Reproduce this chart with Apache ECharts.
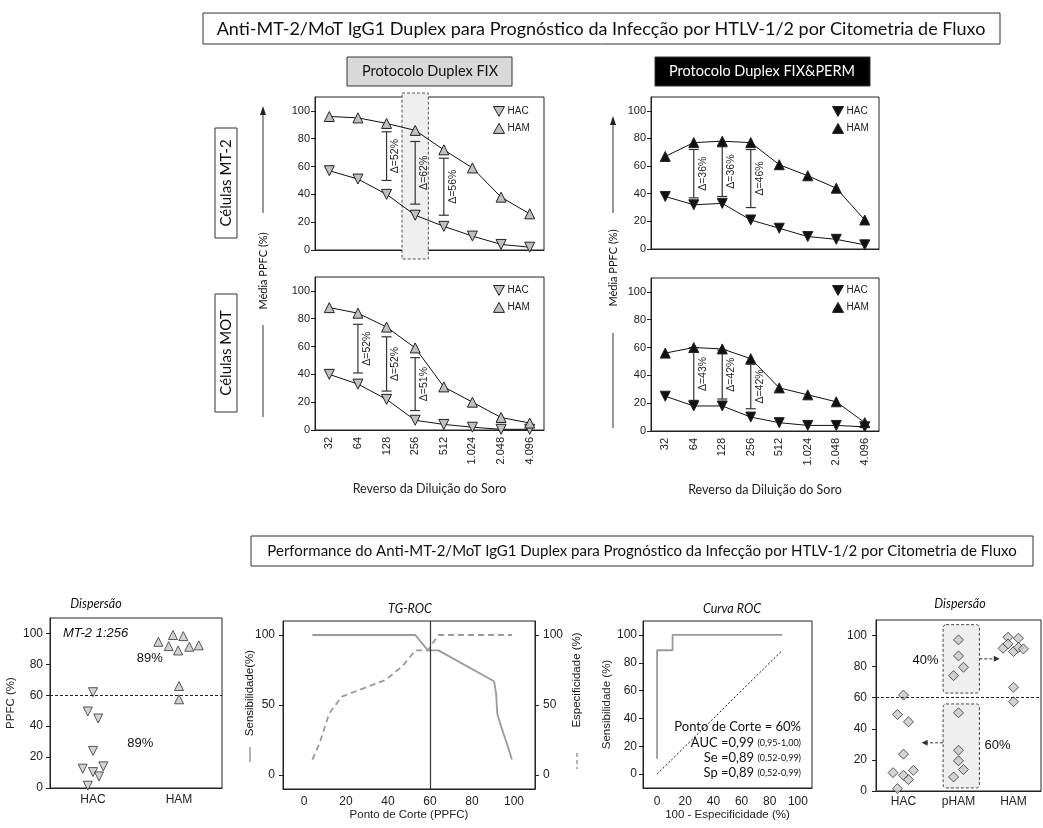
<!DOCTYPE html>
<html>
<head>
<meta charset="utf-8">
<script src="https://cdn.jsdelivr.net/npm/echarts@6/dist/echarts.min.js"></script>
<style>
  html, body { margin: 0; padding: 0; background: #fff; }
  #chart { width: 1043px; height: 828px; }
</style>
</head>
<body>
<div id="chart"></div>
<script>
// ---- data ----
const dilutions = ['32', '64', '128', '256', '512', '1.024', '2.048', '4.096'];

const fixMt2Hac = [57, 51, 40, 25, 17, 10, 4, 2];
const fixMt2Ham = [96, 95, 91, 86, 72, 59, 38, 26];
const fixMotHac = [40, 33, 22, 7, 4, 2, 0.5, 0.5];
const fixMotHam = [88, 84, 74, 59, 31, 20, 9, 5];
const permMt2Hac = [38, 32, 33, 21, 15, 9, 7, 3];
const permMt2Ham = [67, 77, 78, 77, 61, 53, 44, 21];
const permMotHac = [25, 18, 18, 10, 6, 4, 4, 3];
const permMotHam = [56, 60, 59, 52, 31, 26, 21, 6];

// [category index, low, high, label]
const fixMt2Delta = [[2, 50, 85, 'Δ=52%'], [3, 33, 78, 'Δ=62%'], [4, 25, 66, 'Δ=56%']];
const fixMotDelta = [[1, 41, 76, 'Δ=52%'], [2, 28, 67, 'Δ=52%'], [3, 14, 52, 'Δ=51%']];
const permMt2Delta = [[1, 37, 72, 'Δ=36%'], [2, 38, 74, 'Δ=36%'], [3, 30, 72, 'Δ=46%']];
const permMotDelta = [[1, 22, 60, 'Δ=43%'], [2, 23, 58, 'Δ=42%'], [3, 16, 48, 'Δ=42%']];

// scatter MT-2 1:256 (x = group position with jitter, y = PPFC %)
const dispHac = [[0.5, 62], [0.44, 49.5], [0.56, 45], [0.5, 24], [0.38, 12.5], [0.5, 10.3], [0.57, 7.5], [0.62, 14], [0.44, 1.5]];
const dispHam = [[1.26, 94.6], [1.38, 91.8], [1.43, 99], [1.49, 89], [1.55, 98.3], [1.62, 91.4], [1.73, 92.3], [1.5, 66], [1.5, 57.4]];

// TG-ROC
const tgSens = [[4, 100], [53, 100], [59, 89], [64, 89], [90.5, 67], [91.5, 58], [92, 44], [94, 34], [96.5, 23], [99, 11]];
const tgSpec = [[4, 11], [7.5, 23], [12, 44], [18, 56], [39, 68], [47, 78], [53, 89], [59, 89], [64, 100], [99, 100]];

// ROC
const rocCurve = [[0, 11], [0, 89], [11, 89], [11, 100], [89, 100]];
const rocDiag = [[0, 0], [89, 89]];

// dispersion HAC / pHAM / HAM
const dispDHac = [[0.5, 61.7], [0.39, 49.2], [0.59, 44.5], [0.5, 23.7], [0.31, 11.8], [0.5, 10.1], [0.59, 7.3], [0.68, 13.3], [0.39, 1.5]];
const dispDPham = [[1.5, 97.2], [1.5, 86.9], [1.59, 79.6], [1.41, 74.2], [1.5, 50.3], [1.5, 26.2], [1.5, 19.4], [1.59, 13.8], [1.41, 9]];
const dispDHam = [[2.4, 98.9], [2.59, 98.3], [2.31, 91.8], [2.4, 94.6], [2.5, 89.7], [2.59, 92.3], [2.68, 91.4], [2.5, 66.7], [2.5, 57.4]];

const pctTicks = [0, 20, 40, 60, 80, 100];

// ---- chart ----
const chart = echarts.init(document.getElementById('chart'));

const FA = '"Liberation Sans", Arial, sans-serif';
const FC = 'Lato, "Open Sans", sans-serif';
const INK = '#222';
const DOWN_TRI = 'path://M0,0L10,0L5,9Z';

const gridBox = { show: true, borderColor: INK, borderWidth: 1, backgroundColor: 'transparent' };
const grids = [
  { left: 315, top: 97, width: 229, height: 153 },
  { left: 315, top: 277, width: 229, height: 153 },
  { left: 651, top: 97, width: 228, height: 152 },
  { left: 651, top: 278, width: 228, height: 153 },
  { left: 50, top: 618, width: 172, height: 170 },
  { left: 283, top: 621, width: 252, height: 168 },
  { left: 643, top: 621, width: 169, height: 167 },
  { left: 876, top: 620, width: 165, height: 171 }
].map(g => Object.assign({}, gridBox, g));

const xAxes = [];
const yAxes = [];
const series = [];

function valueAxis(gi, min, max, ticks, fontSize, margin, extra) {
  return Object.assign({
    gridIndex: gi, type: 'value', min: min, max: max,
    axisLine: { show: true, onZero: false, lineStyle: { color: INK } },
    axisTick: { show: true, length: 4, customValues: ticks, lineStyle: { color: INK } },
    axisLabel: { customValues: ticks, fontSize: fontSize, fontFamily: FA, color: INK, margin: margin },
    splitLine: { show: false }
  }, extra || {});
}

function bracketSeries(gi, deltas) {
  return {
    type: 'custom', xAxisIndex: gi, yAxisIndex: gi, z: 3, silent: true,
    data: deltas.map(d => [d[0], d[1], d[2]]),
    encode: { x: 0, y: [1, 2] },
    renderItem: (params, api) => {
      const lo = api.coord([api.value(0), api.value(1)]);
      const hi = api.coord([api.value(0), api.value(2)]);
      const st = { stroke: '#333', lineWidth: 1.2 };
      return {
        type: 'group',
        children: [
          { type: 'line', shape: { x1: lo[0], y1: lo[1], x2: hi[0], y2: hi[1] }, style: st },
          { type: 'line', shape: { x1: lo[0] - 5, y1: lo[1], x2: lo[0] + 5, y2: lo[1] }, style: st },
          { type: 'line', shape: { x1: hi[0] - 5, y1: hi[1], x2: hi[0] + 5, y2: hi[1] }, style: st },
          {
            type: 'text', x: lo[0] + 9, y: (lo[1] + hi[1]) / 2, rotation: Math.PI / 2,
            style: { text: deltas[params.dataIndex][3], fill: INK, font: '10.5px ' + FA, align: 'center', verticalAlign: 'middle' }
          }
        ]
      };
    }
  };
}

function topPanel(gi, hac, ham, deltas, fill, bottomRow) {
  xAxes.push({
    gridIndex: gi, type: 'category', data: dilutions, boundaryGap: true,
    axisLine: { onZero: false, lineStyle: { color: INK } },
    axisTick: { alignWithLabel: true, length: 4, lineStyle: { color: INK } },
    axisLabel: { show: bottomRow, rotate: 90, fontSize: 11, fontFamily: FA, color: INK, margin: 7 },
    name: bottomRow ? 'Reverso da Diluição do Soro' : '',
    nameLocation: 'middle', nameGap: 52,
    nameTextStyle: { fontFamily: FC, fontSize: 12.5, color: INK }
  });
  yAxes.push(valueAxis(gi, 0, 110, pctTicks, 11, 5));
  const mark = { color: fill, borderColor: INK, borderWidth: 1 };
  series.push(
    {
      type: 'line', name: 'HAC', xAxisIndex: gi, yAxisIndex: gi, data: hac,
      symbol: 'triangle', symbolRotate: 180, symbolSize: 10, z: 4,
      lineStyle: { color: '#111', width: 1 }, itemStyle: mark
    },
    {
      type: 'line', name: 'HAM', xAxisIndex: gi, yAxisIndex: gi, data: ham,
      symbol: 'triangle', symbolSize: 10, z: 4,
      lineStyle: { color: '#111', width: 1 }, itemStyle: mark
    },
    bracketSeries(gi, deltas)
  );
}

topPanel(0, fixMt2Hac, fixMt2Ham, fixMt2Delta, '#c0c0c0', false);
topPanel(1, fixMotHac, fixMotHam, fixMotDelta, '#c0c0c0', true);
topPanel(2, permMt2Hac, permMt2Ham, permMt2Delta, '#111', false);
topPanel(3, permMotHac, permMotHam, permMotDelta, '#111', true);

// panel A: dispersion MT-2 1:256
xAxes.push(valueAxis(4, 0, 2, [0.5, 1.5], 12, 6, {
  axisTick: { show: false },
  axisLabel: { customValues: [0.5, 1.5], fontSize: 12, fontFamily: FA, color: INK, margin: 6,
    formatter: v => (v < 1 ? 'HAC' : 'HAM') }
}));
yAxes.push(valueAxis(4, 0, 110, pctTicks, 12, 7, {
  name: 'PPFC (%)', nameLocation: 'middle', nameGap: 33,
  nameTextStyle: { fontFamily: FA, fontSize: 11.5, color: INK }
}));
const triStyle = { color: '#c8c8c8', borderColor: '#333', borderWidth: 1 };
series.push(
  {
    type: 'scatter', name: 'dispHac', xAxisIndex: 4, yAxisIndex: 4, data: dispHac,
    symbol: 'triangle', symbolRotate: 180, symbolSize: 9, itemStyle: triStyle,
    markLine: { silent: true, symbol: 'none', label: { show: false },
      lineStyle: { color: INK, type: [3, 2], width: 1 }, data: [{ yAxis: 60 }] }
  },
  {
    type: 'scatter', name: 'dispHam', xAxisIndex: 4, yAxisIndex: 4, data: dispHam,
    symbol: 'triangle', symbolSize: 9, itemStyle: triStyle
  }
);

// panel B: TG-ROC
xAxes.push(valueAxis(5, -10, 110, pctTicks, 12, 7, {
  axisTick: { show: false },
  name: 'Ponto de Corte (PPFC)', nameLocation: 'middle', nameGap: 18,
  nameTextStyle: { fontFamily: FA, fontSize: 11.5, color: INK }
}));
yAxes.push(valueAxis(5, -10, 110, [0, 50, 100], 12, 8));
// right axis of TG-ROC is yAxis index 8 (added below)
series.push(
  {
    type: 'line', name: 'Sensibilidade', xAxisIndex: 5, yAxisIndex: 5, data: tgSens,
    symbol: 'none', lineStyle: { color: '#9a9a9a', width: 1.8 },
    markLine: { silent: true, symbol: 'none', label: { show: false },
      lineStyle: { color: '#333', type: 'solid', width: 1.2 }, data: [{ xAxis: 60 }] }
  },
  {
    type: 'line', name: 'Especificidade', xAxisIndex: 5, yAxisIndex: 8, data: tgSpec,
    symbol: 'none', lineStyle: { color: '#9a9a9a', width: 1.8, type: [6, 4] }
  }
);

// panel C: ROC
xAxes.push(valueAxis(6, -10, 110, pctTicks, 12, 8, {
  axisTick: { show: false },
  name: '100 - Especificidade (%)', nameLocation: 'middle', nameGap: 18,
  nameTextStyle: { fontFamily: FA, fontSize: 11.5, color: INK }
}));
yAxes.push(valueAxis(6, -10, 110, pctTicks, 12, 6, {
  name: 'Sensibilidade (%)', nameLocation: 'middle', nameGap: 30,
  nameTextStyle: { fontFamily: FA, fontSize: 11.5, color: INK }
}));
series.push(
  {
    type: 'line', name: 'ROC', xAxisIndex: 6, yAxisIndex: 6, data: rocCurve,
    symbol: 'none', lineStyle: { color: '#9a9a9a', width: 1.8 }
  },
  {
    type: 'line', name: 'Ref', xAxisIndex: 6, yAxisIndex: 6, data: rocDiag,
    symbol: 'none', lineStyle: { color: '#111', width: 1, type: [2, 2] }
  }
);

// panel D: dispersion HAC / pHAM / HAM
xAxes.push(valueAxis(7, 0, 3, [0.5, 1.5, 2.5], 12, 5, {
  axisTick: { show: false },
  axisLabel: { customValues: [0.5, 1.5, 2.5], fontSize: 12, fontFamily: FA, color: INK, margin: 5,
    formatter: v => (v < 1 ? 'HAC' : v < 2 ? 'pHAM' : 'HAM') }
}));
yAxes.push(valueAxis(7, 0, 110, pctTicks, 12, 9));
const diaStyle = { color: '#c8c8c8', borderColor: '#333', borderWidth: 1 };
series.push(
  {
    type: 'scatter', name: 'dHac', xAxisIndex: 7, yAxisIndex: 7, data: dispDHac,
    symbol: 'diamond', symbolSize: 10, itemStyle: diaStyle, z: 4,
    markLine: { silent: true, symbol: 'none', label: { show: false },
      lineStyle: { color: INK, type: [3, 2], width: 1 }, data: [{ yAxis: 60 }] }
  },
  { type: 'scatter', name: 'dPham', xAxisIndex: 7, yAxisIndex: 7, data: dispDPham,
    symbol: 'diamond', symbolSize: 10, itemStyle: diaStyle, z: 4 },
  { type: 'scatter', name: 'dHam', xAxisIndex: 7, yAxisIndex: 7, data: dispDHam,
    symbol: 'diamond', symbolSize: 10, itemStyle: diaStyle, z: 4 }
);

// TG-ROC right axis
yAxes.push(valueAxis(5, -10, 110, [0, 50, 100], 12, 8, { position: 'right' }));

function legendFor(left, top, fill) {
  const st = { color: fill, borderColor: INK, borderWidth: 1 };
  return {
    left: left, top: top, orient: 'vertical', padding: 0, itemGap: 6,
    itemWidth: 11, itemHeight: 10, selectedMode: false,
    textStyle: { fontSize: 10, fontFamily: FA, color: INK, padding: [0, 0, 0, -2] },
    data: [
      { name: 'HAC', icon: DOWN_TRI, itemStyle: st },
      { name: 'HAM', icon: 'triangle', itemStyle: st }
    ]
  };
}

chart.setOption({
  animation: false,
  grid: grids,
  xAxis: xAxes,
  yAxis: yAxes,
  legend: [
    legendFor(493, 106, '#c0c0c0'),
    legendFor(493, 285, '#c0c0c0'),
    legendFor(832, 106, '#111'),
    legendFor(832, 285, '#111')
  ],
  series: series
});

// ---- frame texts, boxes and annotations ----
function px(gi, v) { return chart.convertToPixel({ gridIndex: gi }, v); }
function txt(x, y, text, font, extra) {
  return Object.assign({ type: 'text', x: x, y: y,
    style: { text: text, font: font, fill: '#111', align: 'center', verticalAlign: 'middle' } }, extra || {});
}
function box(x, y, w, h, fill) {
  return { type: 'rect', shape: { x: x, y: y, width: w, height: h }, style: { fill: fill, stroke: '#333', lineWidth: 1 } };
}
function vline(x, y1, y2, style) {
  return { type: 'line', shape: { x1: x, y1: y1, x2: x, y2: y2 }, style: Object.assign({ stroke: '#333', lineWidth: 1 }, style || {}) };
}
function arrowUp(x, y) {
  return { type: 'polygon', shape: { points: [[x, y], [x - 3, y + 9], [x + 3, y + 9]] }, style: { fill: '#222' } };
}

const els = [];
els.push(box(203, 13, 797, 31, '#fff'));
els.push(txt(601, 29, 'Anti-MT-2/MoT IgG1 Duplex para Prognóstico da Infecção por HTLV-1/2 por Citometria de Fluxo', '18px ' + FC));
els.push(box(347, 57, 165, 29, '#d9d9d9'));
els.push(txt(430, 71.5, 'Protocolo Duplex FIX', '14.5px ' + FC));
els.push(box(655, 57, 215, 29, '#000'));
els.push(txt(762, 71.5, 'Protocolo Duplex FIX&PERM', '14.5px ' + FC, { style: { text: 'Protocolo Duplex FIX&PERM', font: '14.5px ' + FC, fill: '#fff', align: 'center', verticalAlign: 'middle' } }));
els.push(box(215, 128, 22, 110, '#fff'));
els.push(txt(226.5, 183, 'Células MT-2', '15px ' + FC, { rotation: Math.PI / 2 }));
els.push(box(215, 294, 22, 118, '#fff'));
els.push(txt(226.5, 353, 'Células MOT', '15px ' + FC, { rotation: Math.PI / 2 }));

// "Média PPFC (%)" arrows
els.push(vline(263, 213, 112), arrowUp(263, 106));
els.push(txt(263, 271, 'Média PPFC (%)', '11px ' + FC, { rotation: Math.PI / 2 }));
els.push(vline(263, 325, 417));
els.push(vline(613, 213, 122), arrowUp(613, 116));
els.push(txt(613, 268, 'Média PPFC (%)', '11px ' + FC, { rotation: Math.PI / 2 }));
els.push(vline(613, 333, 428));

// second title
els.push(box(251, 536, 782, 30, '#fff'));
els.push(txt(642, 551, 'Performance do Anti-MT-2/MoT IgG1 Duplex para Prognóstico da Infecção por HTLV-1/2 por Citometria de Fluxo', '15px ' + FC));

// panel titles
els.push(txt(96, 604, 'Dispersão', 'italic 12.5px ' + FC));
els.push(txt(410, 609, 'TG-ROC', 'italic 12.5px ' + FC));
els.push(txt(732, 609, 'Curva ROC', 'italic 12.5px ' + FC));
els.push(txt(960, 604, 'Dispersão', 'italic 12.5px ' + FC));

// TG-ROC axis titles with line samples
els.push(txt(250, 693, 'Sensibilidade(%)', '11.5px ' + FA, { rotation: Math.PI / 2 }));
els.push(vline(250, 747, 762, { stroke: '#9a9a9a', lineWidth: 1.5 }));
els.push(txt(577, 680, 'Especificidade (%)', '11.5px ' + FA, { rotation: Math.PI / 2 }));
els.push(vline(577, 753, 769, { stroke: '#9a9a9a', lineWidth: 1.5, lineDash: [4, 3] }));

// highlight of 1:256 in FIX / MT-2
const hl = px(0, ['256', 0]);
const catW = grids[0].width / dilutions.length;
els.push({ type: 'rect', z: 1, shape: { x: hl[0] - catW * 0.46, y: grids[0].top - 4, width: catW * 0.92, height: grids[0].height + 13 },
  style: { fill: '#efefef', stroke: '#555', lineWidth: 1, lineDash: [3, 2] } });

// panel A annotations
const pa = px(4, [0.15, 100]);
els.push(txt(pa[0], pa[1], 'MT-2 1:256', 'italic 13px ' + FA, { style: { text: 'MT-2 1:256', font: 'italic 13px ' + FA, fill: '#111', align: 'left', verticalAlign: 'middle' } }));
const pb = px(4, [1.16, 84]);
els.push(txt(pb[0], pb[1], '89%', '13px ' + FA));
const pc = px(4, [1.05, 29]);
els.push(txt(pc[0], pc[1], '89%', '13px ' + FA));

// ROC text block
const rocX = 801;
function rocLine(y, main, small) {
  return { type: 'text', x: rocX, y: y, style: {
    text: small ? '{a|' + main + '} {b|' + small + '}' : '{a|' + main + '}',
    align: 'right', verticalAlign: 'middle',
    rich: { a: { font: '13px ' + FC, fill: '#111' }, b: { font: '9px ' + FC, fill: '#111' } } } };
}
els.push(rocLine(727, 'Ponto de Corte = 60%'));
els.push(rocLine(743, 'AUC =0,99', '(0,95-1,00)'));
els.push(rocLine(758, 'Se =0,89', '(0,52-0,99)'));
els.push(rocLine(773, 'Sp =0,89', '(0,52-0,99)'));

// panel D boxes, arrows and percentages
function dashedBox(a, b) {
  const p1 = px(7, a), p2 = px(7, b);
  return { type: 'rect', z: 1, shape: { x: p1[0], y: p1[1], width: p2[0] - p1[0], height: p2[1] - p1[1], r: 3 },
    style: { fill: '#efefef', stroke: '#444', lineWidth: 1, lineDash: [3, 2] } };
}
els.push(dashedBox([1.22, 107], [1.88, 63]));
els.push(dashedBox([1.22, 56], [1.88, 2]));
function dashedArrow(a, b) {
  const p1 = px(7, a), p2 = px(7, b);
  const dir = p2[0] > p1[0] ? 1 : -1;
  return [
    { type: 'line', shape: { x1: p1[0], y1: p1[1], x2: p2[0] - dir * 4, y2: p2[1] }, style: { stroke: '#333', lineWidth: 1, lineDash: [3, 2] } },
    { type: 'polygon', shape: { points: [[p2[0], p2[1]], [p2[0] - dir * 6, p2[1] - 3], [p2[0] - dir * 6, p2[1] + 3]] }, style: { fill: '#333' } }
  ];
}
els.push.apply(els, dashedArrow([1.88, 85], [2.25, 85]));
els.push.apply(els, dashedArrow([1.22, 31], [0.83, 31]));
const pd1 = px(7, [0.9, 84]);
els.push(txt(pd1[0], pd1[1], '40%', '13px ' + FA));
const pd2 = px(7, [2.21, 29]);
els.push(txt(pd2[0], pd2[1], '60%', '13px ' + FA));

chart.setOption({ graphic: { elements: els } });
</script>
</body>
</html>
